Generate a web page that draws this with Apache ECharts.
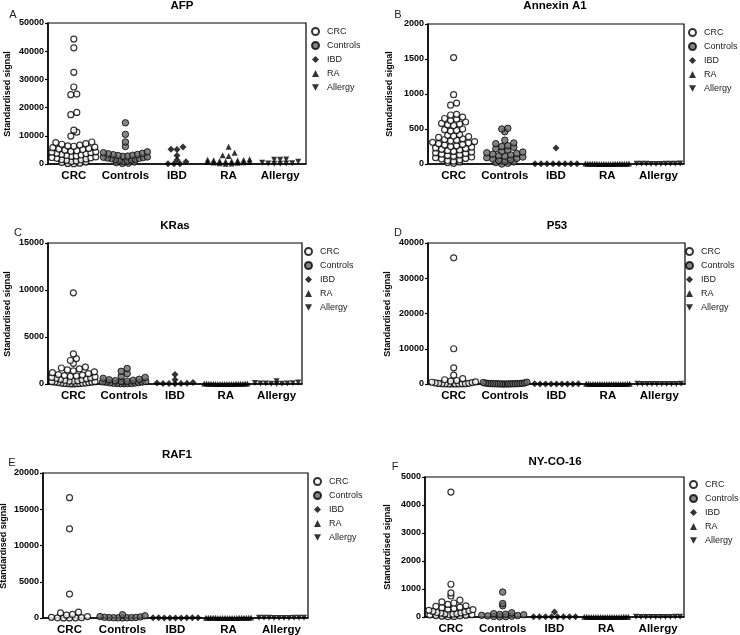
<!DOCTYPE html>
<html><head><meta charset="utf-8">
<script src="https://cdn.jsdelivr.net/npm/echarts@6.0.0/dist/echarts.min.js"></script>
<style>html,body{margin:0;padding:0;background:#fff}#c{width:740px;height:635px}</style>
</head><body><div id="c"></div>
<script>
const categories = ['CRC', 'Controls', 'IBD', 'RA', 'Allergy'];
const panelTitles = ['AFP', 'Annexin A1', 'KRas', 'P53', 'RAF1', 'NY-CO-16'];
const panelLetters = ['A', 'B', 'C', 'D', 'E', 'F'];
const yMax = [50000, 2000, 15000, 40000, 20000, 5000];
const yInterval = [10000, 500, 5000, 10000, 5000, 1000];
const yAxisName = 'Standardised signal';

// AFP
const afpCRC = [44300, 41200, 32500, 27300, 24800, 24600, 18300, 17500, 12000, 11300, 9900, 7800, 7600, 7200, 7000, 6700, 6400, 6300, 6000, 5800, 5500, 5300, 5100, 4900, 4700, 4500, 4300, 4200, 4000, 3800, 3600, 3400, 3200, 3000, 2800, 2700, 2500, 2300, 2200, 2000, 1800, 1600, 1500, 1300, 1100, 900, 700, 500, 300, 200, 100];
const afpControls = [14600, 10500, 7800, 6200, 4300, 4000, 3800, 3600, 3400, 3300, 3100, 3000, 2800, 2700, 2500, 2400, 2300, 2100, 2000, 1900, 1700, 1600, 1400, 1300, 1100, 900, 700, 500, 300, 200];
const afpIBD = [6000, 5200, 5100, 3000, 1400, 800, 100, 100, 100];
const afpRA = [6100, 4000, 3100, 2800, 1700, 1500, 1400, 1300, 1200, 1100, 1000, 900, 800, 700, 600, 500, 400, 300, 200, 100];
const afpAllergy = [1600, 1500, 1500, 800, 400, 300, 200, 200, 100, 100];

// Annexin A1
const annCRC = [1520, 990, 870, 840, 710, 700, 670, 650, 640, 620, 600, 580, 570, 560, 550, 500, 490, 480, 470, 420, 410, 400, 390, 380, 360, 350, 340, 330, 320, 310, 300, 290, 280, 270, 260, 250, 240, 230, 220, 210, 200, 190, 180, 170, 160, 150, 140, 130, 120, 110, 100, 90, 80, 70, 60, 50, 40, 30, 20, 10];
const annControls = [510, 500, 460, 340, 300, 290, 260, 250, 240, 220, 200, 180, 170, 160, 150, 140, 130, 120, 110, 100, 90, 80, 70, 60, 50, 40, 30, 20, 10, 0];
const annIBD = [230, 5, 5, 5, 5, 5, 5, 5, 5];
const annRA = [8, 6, 5, 5, 4, 4, 3, 3, 3, 2, 2, 2, 2, 1, 1, 1, 1, 0, 0, 0];
const annAllergy = [6, 5, 4, 3, 3, 2, 2, 1, 1, 0];

// KRas
const krasCRC = [9700, 3200, 2700, 2500, 2200, 1800, 1700, 1600, 1500, 1400, 1300, 1200, 1100, 1000, 950, 900, 850, 800, 750, 700, 650, 600, 550, 500, 450, 400, 350, 300, 300, 250, 250, 200, 200, 150, 150, 100, 100, 80, 60, 50, 40, 30, 20, 10];
const krasControls = [1650, 1350, 1100, 800, 700, 600, 500, 450, 400, 350, 300, 280, 250, 220, 200, 180, 150, 120, 100, 80, 60, 50, 40, 30, 20];
const krasIBD = [1000, 450, 150, 100, 80, 60, 50, 40, 30];
const krasRA = [60, 50, 40, 40, 30, 30, 30, 20, 20, 20, 20, 10, 10, 10, 10, 5, 5, 5, 0, 0];
const krasAllergy = [300, 150, 100, 80, 60, 50, 40, 30, 20, 10];

// P53
const p53CRC = [35800, 10000, 4600, 2500, 1500, 1200, 1000, 800, 600, 500, 400, 300, 200, 150, 100, 80, 60, 50, 40, 30, 20, 10];
const p53Controls = [500, 400, 300, 250, 200, 180, 150, 120, 100, 90, 80, 70, 60, 50, 40, 30, 20, 10, 5, 0];
const p53IBD = [50, 40, 30, 30, 20, 20, 10, 10, 5];
const p53RA = [60, 50, 40, 40, 30, 30, 30, 20, 20, 20, 20, 10, 10, 10, 10, 5, 5, 5, 0, 0];
const p53Allergy = [50, 40, 30, 30, 20, 20, 10, 10, 5, 0];

// RAF1
const rafCRC = [16600, 12300, 3300, 800, 700, 500, 400, 200, 100, 50, 30, 20, 10, 5];
const rafControls = [450, 300, 200, 150, 100, 80, 60, 50, 40, 30, 20, 10];
const rafIBD = [40, 30, 30, 20, 20, 10, 10, 5, 5];
const rafRA = [60, 50, 40, 40, 30, 30, 30, 20, 20, 20, 20, 10, 10, 10, 10, 5, 5, 5, 0, 0];
const rafAllergy = [50, 40, 30, 30, 20, 20, 10, 10, 5, 0];

// NY-CO-16
const nyCRC = [4460, 1170, 860, 750, 600, 540, 500, 450, 400, 380, 350, 330, 300, 280, 260, 240, 220, 200, 180, 160, 150, 140, 120, 110, 100, 90, 80, 70, 60, 50, 40, 30, 20, 10];
const nyControls = [890, 480, 400, 150, 120, 100, 90, 80, 60, 50, 40, 30, 20, 10, 5];
const nyIBD = [180, 10, 10, 10, 10, 10, 10, 10, 10];
const nyRA = [10, 8, 6, 5, 5, 4, 4, 3, 3, 3, 2, 2, 2, 2, 1, 1, 1, 0, 0, 0];
const nyAllergy = [8, 6, 5, 4, 3, 3, 2, 1, 1, 0];

const panelData = [
  [afpCRC, afpControls, afpIBD, afpRA, afpAllergy],
  [annCRC, annControls, annIBD, annRA, annAllergy],
  [krasCRC, krasControls, krasIBD, krasRA, krasAllergy],
  [p53CRC, p53Controls, p53IBD, p53RA, p53Allergy],
  [rafCRC, rafControls, rafIBD, rafRA, rafAllergy],
  [nyCRC, nyControls, nyIBD, nyRA, nyAllergy]
];

// ---- layout (not data) ----
const grids = [
  {left: 48, top: 23, width: 258, height: 141},
  {left: 428, top: 24, width: 256, height: 140},
  {left: 48, top: 243, width: 254, height: 141},
  {left: 428, top: 243, width: 257, height: 141},
  {left: 43, top: 473, width: 265, height: 145},
  {left: 425, top: 477, width: 259, height: 140}
];
const titlePos = [[182, 6], [555, 6], [175, 226], [557, 226], [177, 455], [555, 462]];
const letterPos = [[13, 15], [398, 15], [18, 233], [398, 233], [12, 463], [395, 467]];
const namePos = [[8, 94], [390, 94], [8, 314], [388, 314], [4, 546], [388, 547]];
const legendPos = [[311, 27], [688, 28], [304, 247], [685, 247], [313, 477], [689, 480]];

const FONT = 'Liberation Sans, Arial, Helvetica, sans-serif';
const INV_TRI = 'path://M0,0L10,0L5,9Z';
const styles = [
  {symbol: 'circle', symbolSize: 6, itemStyle: {color: '#fff', borderColor: '#000', borderWidth: 1.2}},
  {symbol: 'circle', symbolSize: 6.5, itemStyle: {color: '#666', borderColor: '#000', borderWidth: 1}},
  {symbol: 'diamond', symbolSize: 7, itemStyle: {color: '#000'}},
  {symbol: 'triangle', symbolSize: 6, itemStyle: {color: '#000'}},
  {symbol: INV_TRI, symbolSize: 6, itemStyle: {color: '#000'}}
];

// GraphPad-like row layout: points of similar height share a row, centred on the category
function swarm(values, ymax, g) {
  const ppu = g.height / ymax, D = 6, binH = 5, catW = g.width / 5, maxW = catW * 0.85;
  const bins = {};
  values.forEach(v => { const b = Math.round(v * ppu / binH); (bins[b] = bins[b] || []).push(v); });
  const out = [];
  Object.keys(bins).forEach(k => {
    const arr = bins[k].slice().sort((a, b) => a - b), n = arr.length;
    const sp = n > 1 ? Math.min(D, maxW / (n - 1)) : 0;
    const slots = [];
    for (let i = 0; i < n; i++) slots.push((i - (n - 1) / 2) * sp);
    slots.sort((a, b) => Math.abs(a) - Math.abs(b) || a - b);
    arr.forEach((v, i) => out.push([slots[i] / catW, v]));
  });
  return out;
}

const option = {
  animation: false,
  grid: [], xAxis: [], yAxis: [], series: [], legend: [], graphic: []
};

grids.forEach((g, p) => {
  option.grid.push(Object.assign({show: true, borderColor: '#000', borderWidth: 1.2, containLabel: false, outerBoundsMode: 'none'}, g));
  option.xAxis.push({
    type: 'category', gridIndex: p, data: categories, boundaryGap: true,
    axisLine: {show: true, onZero: false, lineStyle: {color: '#000', width: 1.5}},
    axisTick: {show: false},
    axisLabel: {interval: 0, color: '#000', fontWeight: 'bold', fontSize: 11.5, fontFamily: FONT, margin: 6},
    splitLine: {show: false}
  });
  option.xAxis.push({type: 'value', gridIndex: p, min: -0.5, max: 4.5, show: false});
  option.yAxis.push({
    type: 'value', gridIndex: p, min: 0, max: yMax[p], interval: yInterval[p],
    axisLine: {show: true, onZero: false, lineStyle: {color: '#000', width: 1.5}},
    axisTick: {show: true, length: 3, lineStyle: {color: '#000', width: 1.2}},
    axisLabel: {color: '#000', fontWeight: 'bold', fontSize: 9, fontFamily: FONT, margin: 4, formatter: v => String(v)},
    splitLine: {show: false}
  });
  panelData[p].forEach((vals, ci) => {
    const pts = swarm(vals, yMax[p], g).map(d => [ci + d[0], d[1]]);
    option.series.push(Object.assign({
      type: 'scatter', name: categories[ci], xAxisIndex: 2 * p + 1, yAxisIndex: p,
      data: pts, z: 5 - ci, emphasis: {disabled: true}, silent: true
    }, styles[ci]));
  });
  option.legend.push({
    orient: 'vertical', left: legendPos[p][0], top: legendPos[p][1], padding: 0,
    data: categories.map((c, ci) => ({name: c, icon: styles[ci].symbol})),
    itemWidth: 7, itemHeight: 7, itemGap: 5, selectedMode: false,
    textStyle: {fontSize: 9, color: '#222', fontFamily: FONT, padding: [0, 0, 0, 3]}
  });
  option.graphic.push({type: 'text', x: titlePos[p][0], y: titlePos[p][1],
    style: {text: panelTitles[p], font: 'bold 11.5px ' + FONT, fill: '#000', textAlign: 'center', textVerticalAlign: 'middle'}});
  option.graphic.push({type: 'text', x: letterPos[p][0], y: letterPos[p][1],
    style: {text: panelLetters[p], font: '11px ' + FONT, fill: '#222', textAlign: 'center', textVerticalAlign: 'middle'}});
  option.graphic.push({type: 'text', x: namePos[p][0], y: namePos[p][1], rotation: Math.PI / 2,
    style: {text: yAxisName, font: 'bold 9px ' + FONT, fill: '#000', textAlign: 'center', textVerticalAlign: 'middle'}});
});

const chart = echarts.init(document.getElementById('c'), null, {renderer: 'canvas'});
chart.setOption(option);
</script>
</body></html>
